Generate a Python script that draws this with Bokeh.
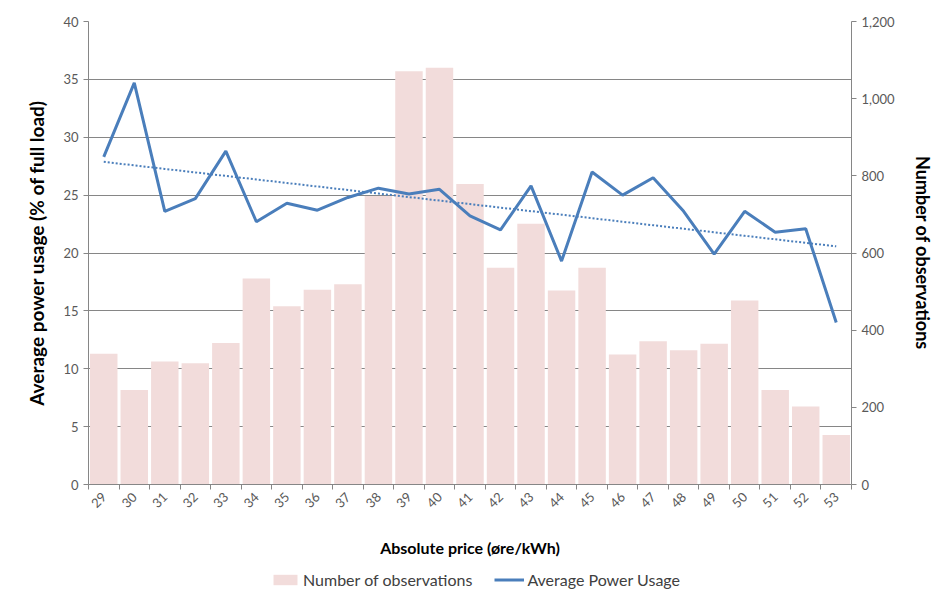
import numpy as np
from math import pi
from bokeh.plotting import figure
from bokeh.layouts import column
from bokeh.models import (Range1d, LinearAxis, FixedTicker, NumeralTickFormatter,
                          Legend, LegendItem)
from bokeh.embed import file_html
from bokeh.resources import INLINE

prices = [29, 30, 31, 32, 33, 34, 35, 36, 37, 38, 39, 40, 41,
          42, 43, 44, 45, 46, 47, 48, 49, 50, 51, 52, 53]
observations = [339, 245, 319, 314, 367, 534, 462, 505, 519, 748, 1071, 1080, 779,
                562, 676, 503, 562, 337, 371, 348, 365, 477, 245, 202, 128]
avg_power = [28.3, 34.7, 23.6, 24.7, 28.8, 22.7, 24.3, 23.7, 24.8, 25.6, 25.1, 25.5, 23.2,
             22.0, 25.8, 19.3, 27.0, 25.0, 26.5, 23.6, 19.9, 23.6, 21.8, 22.1, 14.0]
left_ticks = [0, 5, 10, 15, 20, 25, 30, 35, 40]
right_ticks = [0, 200, 400, 600, 800, 1000, 1200]
bar_label = "Number of observations"
line_label = "Average Power Usage"

FONT = "Lato"
GRID = "#868686"
TICK_TXT = "#595959"
BAR = "#F2DCDB"
BLUE = "#4A7EBB"

p = figure(frame_width=763, frame_height=463, output_backend="svg", toolbar_location=None,
           x_range=Range1d(prices[0] - 0.5, prices[-1] + 0.5),
           y_range=Range1d(left_ticks[0], left_ticks[-1]),
           min_border_left=88, min_border_right=89, min_border_top=21, min_border_bottom=86)
p.extra_y_ranges = {"obs": Range1d(right_ticks[0], right_ticks[-1])}
p.outline_line_color = None
p.background_fill_color = "white"
p.border_fill_color = "white"

bars = p.vbar(x=prices, top=observations, width=0.9, y_range_name="obs",
              fill_color=BAR, line_color=None)
line = p.line(prices, avg_power, line_color=BLUE, line_width=3)
coef = np.polyfit(prices, avg_power, 1)
trend = np.polyval(coef, prices)
p.line(prices, trend, line_color=BLUE, line_width=2, line_dash="2 2")

# x axis
xa = p.xaxis[0]
xa.ticker = FixedTicker(ticks=prices,
                        minor_ticks=[x - 0.5 for x in prices] + [prices[-1] + 0.5])
xa.major_tick_out = 0
xa.major_tick_in = 0
xa.minor_tick_out = 5
xa.minor_tick_in = 0
xa.major_label_orientation = pi / 4
xa.axis_label = "Absolute price (øre/kWh)"

# left axis
ya = p.yaxis[0]
ya.ticker = FixedTicker(ticks=left_ticks)
ya.axis_label = "Average power usage (% of full load)"
ya.major_tick_out = 5
ya.major_tick_in = 0
ya.minor_tick_out = 0
ya.minor_tick_in = 0

# right axis
ra = LinearAxis(y_range_name="obs", axis_label="Number of observations",
                ticker=FixedTicker(ticks=right_ticks),
                formatter=NumeralTickFormatter(format="0,0"))
ra.major_tick_out = 5
ra.major_tick_in = 0
ra.minor_tick_out = 0
ra.minor_tick_in = 0
p.add_layout(ra, "right")

for ax in [xa, ya, ra]:
    ax.axis_line_color = GRID
    ax.major_tick_line_color = GRID
    ax.minor_tick_line_color = GRID
    ax.major_label_text_font = FONT
    ax.major_label_text_font_size = "13px"
    ax.major_label_text_color = TICK_TXT
    ax.axis_label_text_font = FONT
    ax.axis_label_text_font_style = "bold"
    ax.axis_label_text_color = "black"

xa.axis_label_text_font_size = "16px"
ya.axis_label_text_font_size = "19px"
ra.axis_label_text_font_size = "18px"
xa.axis_label_standoff = 23
ya.axis_label_standoff = 12
ra.axis_label_standoff = 14

p.xgrid.visible = False
p.ygrid.ticker = FixedTicker(ticks=left_ticks)
p.ygrid.grid_line_color = GRID
p.ygrid.grid_line_width = 1

# legend strip below the chart (key glyphs only, placed outside the visible range)
lf = figure(frame_width=940, frame_height=30, output_backend="svg", toolbar_location=None,
            x_axis_type=None, y_axis_type=None, min_border=0,
            x_range=Range1d(0, 1), y_range=Range1d(0, 1))
lf.outline_line_color = None
lf.xgrid.visible = False
lf.ygrid.visible = False
lbar = lf.vbar(x=[-5], top=[0], width=0.9, fill_color=BAR, line_color=None)
lline = lf.line(x=[-6, -5], y=[0, 0], line_color=BLUE, line_width=3)
legend = Legend(items=[LegendItem(label=bar_label, renderers=[lbar]),
                       LegendItem(label=line_label, renderers=[lline])],
                orientation="horizontal", location=(270, 11),
                border_line_color=None, background_fill_alpha=0,
                label_text_font=FONT, label_text_font_size="16px",
                label_text_color="#404040", glyph_width=30, glyph_height=13,
                spacing=22, padding=0, margin=0, label_standoff=3)
lf.add_layout(legend, "center")

layout = column(p, lf, spacing=0)
open("out.html", "w").write(file_html(layout, INLINE))
